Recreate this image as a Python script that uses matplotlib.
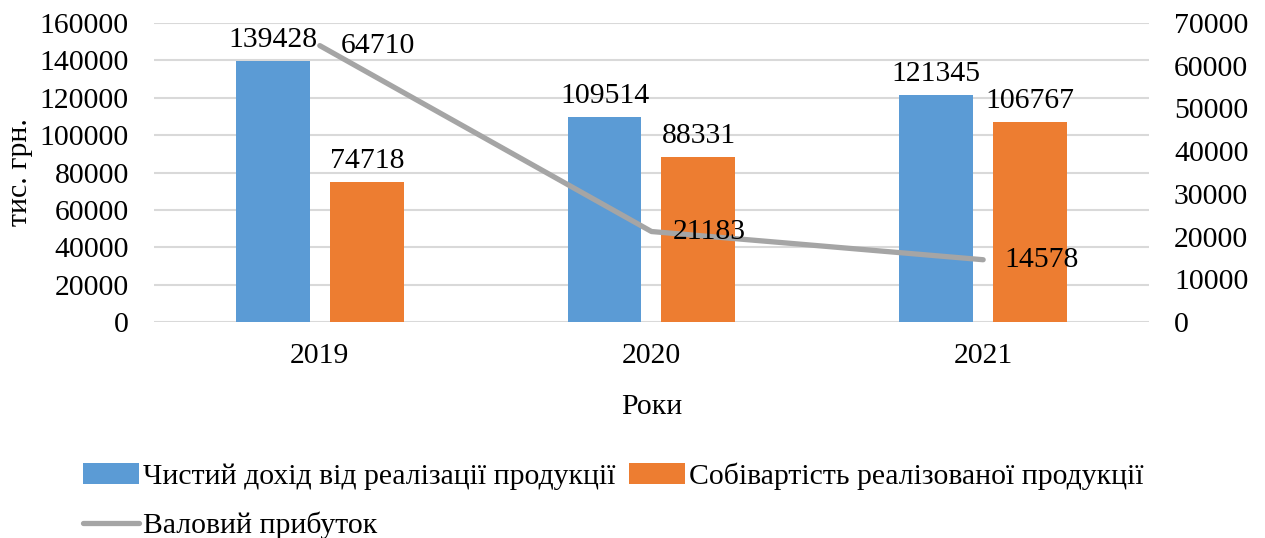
import matplotlib
matplotlib.use("Agg")
import matplotlib.pyplot as plt
import numpy as np

years = ["2019", "2020", "2021"]
revenue = [139428, 109514, 121345]
cost = [74718, 88331, 106767]
gross = [64710, 21183, 14578]
left_ticks = [0, 20000, 40000, 60000, 80000, 100000, 120000, 140000, 160000]
right_ticks = [0, 10000, 20000, 30000, 40000, 50000, 60000, 70000]

plt.rcParams['font.family'] = ['Liberation Serif', 'DejaVu Serif']
FS = 21.4

fig = plt.figure(figsize=(12.65, 5.38), dpi=100)
ax = fig.add_axes([0.1217, 0.4015, 0.7866, 0.5557])
ax2 = ax.twinx()

x = np.arange(len(years))
w = 0.223
off = 0.1416
b1 = ax.bar(x - off, revenue, w, color='#5B9BD5', label='Чистий дохід від реалізації продукції', zorder=3)
b2 = ax.bar(x + off, cost, w, color='#ED7D31', label='Собівартість реалізованої продукції', zorder=3)
for xi, v in zip(x - off, revenue):
    ax.annotate(str(v), (xi, v), xytext=(0, 6), textcoords='offset points',
                ha='center', va='bottom', fontsize=FS, zorder=5)
for xi, v in zip(x + off, cost):
    ax.annotate(str(v), (xi, v), xytext=(0, 6), textcoords='offset points',
                ha='center', va='bottom', fontsize=FS, zorder=5)

ln, = ax2.plot(x, gross, color='#A5A5A5', lw=3.8, solid_capstyle='round',
               label='Валовий прибуток', zorder=4)
for xi, v in zip(x, gross):
    ax2.annotate(str(v), (xi, v), xytext=(15, 0), textcoords='offset points',
                 ha='left', va='center', fontsize=FS, zorder=5)

ax.set_xlim(-0.5, 2.5)
ax.set_ylim(0, 160000)
ax2.set_ylim(0, 70000)
ax.set_yticks(left_ticks)
ax.set_yticklabels([str(t) for t in left_ticks])
ax2.set_yticks(right_ticks)
ax2.set_yticklabels([str(t) for t in right_ticks])
ax.set_xticks(x)
ax.set_xticklabels(years)

ax.grid(axis='y', color='#D9D9D9', lw=1.5, zorder=0)
ax.set_axisbelow(True)
for a in (ax, ax2):
    for s in a.spines.values():
        s.set_visible(False)
    a.tick_params(length=0, labelsize=FS)
ax.tick_params(axis='y', pad=18)
ax.tick_params(axis='x', pad=15)
ax2.tick_params(axis='y', pad=18)

ax.set_xlabel('Роки', fontsize=FS, labelpad=18)
ax.set_ylabel('тис. грн.', fontsize=FS, labelpad=5)

fig.legend(handles=[b1, ln, b2], loc='upper left', bbox_to_anchor=(0.056, 0.163),
           ncol=2, frameon=False, fontsize=FS, handlelength=1.9, handleheight=0.7,
           handletextpad=0.12, columnspacing=0.45, labelspacing=0.75,
           borderaxespad=0)

fig.savefig('out.png', dpi=100)
